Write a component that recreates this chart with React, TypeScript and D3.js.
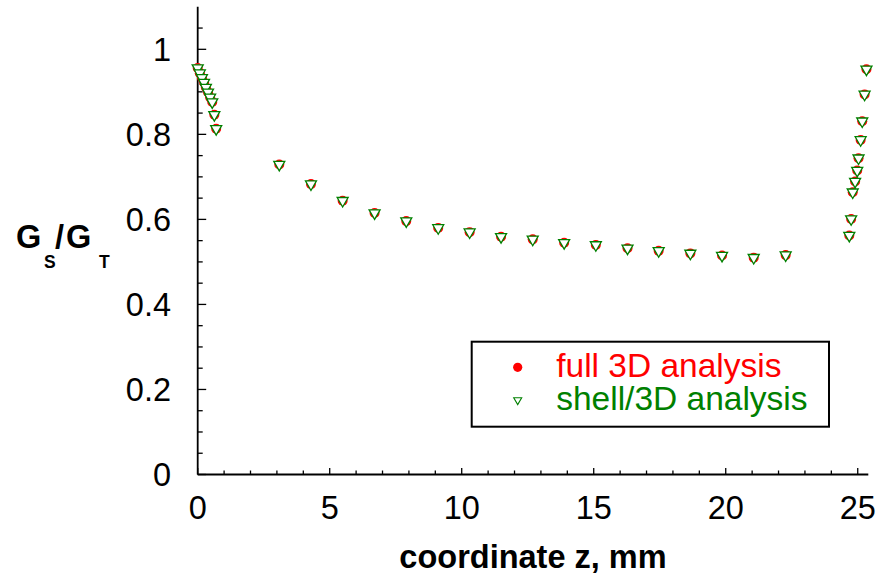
import React from "react";
import * as d3 from "d3";

// ---- data ----
const zFull: number[] = [
  0.0, 0.08, 0.16, 0.24, 0.31, 0.39, 0.47, 0.55, 0.63, 0.7,
  3.09, 4.29, 5.49, 6.7, 7.9, 9.11, 10.3, 11.49, 12.69, 13.88, 15.08, 16.28, 17.46, 18.66, 19.86, 21.06, 22.27,
  24.68, 24.75, 24.81, 24.9, 24.98, 25.03, 25.11, 25.17, 25.26, 25.33,
];
const gFull: number[] = [
  0.956, 0.944, 0.933, 0.922, 0.91, 0.899, 0.887, 0.876, 0.846, 0.813,
  0.729, 0.683, 0.644, 0.615, 0.596, 0.58, 0.57, 0.559, 0.553, 0.545, 0.54, 0.532, 0.526, 0.52, 0.515, 0.51, 0.516,
  0.562, 0.601, 0.664, 0.689, 0.715, 0.744, 0.787, 0.831, 0.894, 0.953,
];
const zShell: number[] = [
  0.0, 0.08, 0.16, 0.24, 0.31, 0.39, 0.47, 0.55, 0.63, 0.7,
  3.09, 4.29, 5.49, 6.7, 7.9, 9.11, 10.3, 11.49, 12.69, 13.88, 15.08, 16.28, 17.46, 18.66, 19.86, 21.06, 22.27,
  24.68, 24.75, 24.81, 24.9, 24.98, 25.03, 25.11, 25.17, 25.26, 25.33,
];
const gShell: number[] = [
  0.956, 0.944, 0.933, 0.922, 0.91, 0.899, 0.887, 0.876, 0.846, 0.813,
  0.729, 0.683, 0.644, 0.615, 0.596, 0.58, 0.57, 0.559, 0.553, 0.545, 0.54, 0.532, 0.526, 0.52, 0.515, 0.51, 0.516,
  0.562, 0.601, 0.664, 0.689, 0.715, 0.744, 0.787, 0.831, 0.894, 0.953,
];
const xTickValues: number[] = [0, 5, 10, 15, 20, 25];
const yTickValues: number[] = [0, 0.2, 0.4, 0.6, 0.8, 1];
const legendLabels: string[] = ["full 3D analysis", "shell/3D analysis"];

const W = 892;
const H = 576;
const FONT = "'Liberation Sans', Arial, Helvetica, sans-serif";

const x = d3.scaleLinear().domain([0, 25.4]).range([197.7, 868.3]);
const y = d3.scaleLinear().domain([0, 1.1]).range([474.5, 6.8]);

function ST(props: {
  x: number; y: number; anchor?: string; size: number; bold?: boolean; fill?: string; children: React.ReactNode;
}) {
  return (
    <text
      x={props.x}
      y={props.y}
      textAnchor={props.anchor || "start"}
      fontSize={props.size}
      fontWeight={props.bold ? "bold" : "normal"}
      fill={props.fill || "#000"}
      fontFamily={FONT}
    >
      {props.children}
    </text>
  );
}

function tri(cx: number, cy: number, side: number): string {
  const h = (side * Math.sqrt(3)) / 2;
  const top = cy - h / 3;
  const bot = cy + (2 * h) / 3;
  return `M${cx - side / 2},${top}L${cx + side / 2},${top}L${cx},${bot}Z`;
}

export default function App() {
  const xMinor = d3.range(0, 26, 1);
  const yMinor = d3.range(0, 22).map((i) => +(i * 0.05).toFixed(2));
  const full = zFull.map((z, i) => [z, gFull[i]]);
  const shell = zShell.map((z, i) => [z, gShell[i]]);

  return (
    <svg
      width={W}
      height={H}
      style={{ position: "absolute", left: 0, top: 0, display: "block", background: "#fff" }}
    >
      <rect x={0} y={0} width={W} height={H} fill="#fff" />
      {/* axes */}
      <line x1={x(0)} x2={x(0)} y1={y(0)} y2={y(1.1)} stroke="#000" strokeWidth={1.8} />
      <line x1={x(0)} x2={x(25.4)} y1={y(0)} y2={y(0)} stroke="#000" strokeWidth={1.8} />
      {yMinor.map((v) => {
        const major = Math.abs(Math.round(v * 10) - v * 10) < 1e-6 && Math.round(v * 10) % 2 === 0;
        return (
          <line key={"ym" + v} x1={x(0)} x2={x(0) + (major ? 8.5 : 5)} y1={y(v)} y2={y(v)} stroke="#000" strokeWidth={1.3} />
        );
      })}
      {xMinor.map((v) => {
        const major = v % 5 === 0;
        return (
          <line key={"xm" + v} x1={x(v)} x2={x(v)} y1={y(0)} y2={y(0) - (major ? 6.5 : 4)} stroke="#000" strokeWidth={1.3} />
        );
      })}
      {yTickValues.map((v) => (
        <ST key={"yl" + v} x={171} y={y(v) + 11.7} anchor="end" size={32.5}>
          {d3.format("")(v)}
        </ST>
      ))}
      {xTickValues.map((v) => (
        <ST key={"xl" + v} x={x(v)} y={519.3} anchor="middle" size={32.5}>
          {String(v)}
        </ST>
      ))}
      {/* axis titles */}
      <ST x={533} y={567.5} anchor="middle" size={32.5} bold>
        coordinate z, mm
      </ST>
      <ST x={16} y={248} size={32.5} bold>G</ST>
      <ST x={44} y={268} size={17.5} bold>S</ST>
      <ST x={55} y={248} size={32.5} bold>/</ST>
      <ST x={66} y={248} size={32.5} bold>G</ST>
      <ST x={99} y={268} size={17.5} bold>T</ST>

      {/* data */}
      {full.map((d, i) => (
        <circle key={"c" + i} cx={x(d[0])} cy={y(d[1])} r={5} fill="#ff0000" />
      ))}
      {shell.map((d, i) => (
        <path key={"t" + i} d={tri(x(d[0]), y(d[1]), 11)} fill="#fff" stroke="#008000" strokeWidth={1.3} />
      ))}

      {/* legend */}
      <rect x={471.7} y={341.7} width={357.3} height={85} fill="#fff" stroke="#000" strokeWidth={2} />
      <circle cx={517.7} cy={367.3} r={4.6} fill="#ff0000" />
      <path d={tri(517.7, 400, 8)} fill="#fff" stroke="#008000" strokeWidth={1.1} />
      <ST x={556.2} y={377} size={33.5} fill="#ff0000">{legendLabels[0]}</ST>
      <ST x={556.2} y={409.5} size={33.5} fill="#008000">{legendLabels[1]}</ST>
    </svg>
  );
}
